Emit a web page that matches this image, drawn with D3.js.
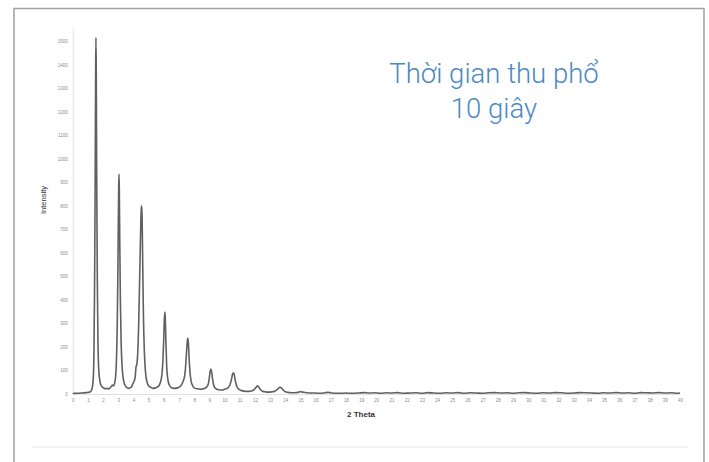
<!DOCTYPE html>
<html>
<head>
<meta charset="utf-8">
<script src="https://cdn.jsdelivr.net/npm/d3@7.9.0/dist/d3.min.js"></script>
<style>
  html, body { margin: 0; padding: 0; background: #fff; }
  svg { display: block; }
</style>
</head>
<body>
<svg id="chart" width="709" height="462"></svg>
<script>
const twoTheta = [
  0, 0.3, 0.6, 0.9, 1.1, 1.2,
  1.28, 1.35, 1.4, 1.44, 1.48, 1.51, 1.53, 1.55, 1.58, 1.62, 1.66, 1.71, 1.78, 1.86, 1.95,
  2.05, 2.15, 2.25, 2.35, 2.45, 2.55, 2.62, 2.7, 2.76,
  2.82, 2.88, 2.93, 2.97, 3.0, 3.03, 3.05, 3.07, 3.1, 3.14, 3.19, 3.25, 3.32, 3.4, 3.5,
  3.6, 3.7, 3.8, 3.88, 3.95, 4.05, 4.12, 4.17, 4.22,
  4.28, 4.34, 4.4, 4.46, 4.51, 4.54, 4.57, 4.61, 4.66, 4.72, 4.8, 4.9, 5.0,
  5.15, 5.3, 5.45, 5.6, 5.72,
  5.8, 5.88, 5.94, 5.99, 6.03, 6.07, 6.1, 6.14, 6.19, 6.26, 6.35, 6.45,
  6.6, 6.75, 6.9, 7.05, 7.15, 7.25,
  7.32, 7.38, 7.44, 7.5, 7.55, 7.58, 7.62, 7.67, 7.73, 7.8, 7.9, 8.0,
  8.2, 8.4, 8.6, 8.8,
  8.92, 8.99, 9.05, 9.1, 9.15, 9.22, 9.3, 9.4,
  9.6, 9.8, 10.0, 10.2, 10.35,
  10.45, 10.52, 10.58, 10.63, 10.7, 10.78, 10.88,
  11.1, 11.3, 11.5, 11.7, 11.9, 12.0,
  12.1, 12.17, 12.25, 12.35, 12.5,
  12.7, 12.9, 13.1, 13.3, 13.45,
  13.55, 13.65, 13.75, 13.85, 14.0,
  14.3, 14.6, 14.85, 15.0, 15.15, 15.4, 15.7, 16.0, 16.3, 16.6, 16.8, 17.0, 17.3, 17.7,
  18.0, 18.4, 18.8, 19.2, 19.5, 19.9, 20.3, 20.7, 21.0, 21.4, 21.8, 22.2, 22.6, 23.0,
  23.4, 23.8, 24.2, 24.6, 25.0, 25.4, 25.8, 26.2, 26.6, 27.0, 27.4, 27.8, 28.2, 28.6,
  29.0, 29.4, 29.8, 30.2, 30.6, 31.0, 31.4, 31.8, 32.2, 32.6, 33.0, 33.4, 33.8, 34.2,
  34.6, 35.0, 35.4, 35.8, 36.2, 36.6, 37.0, 37.4, 37.8, 38.2, 38.6, 39.0, 39.4, 39.8, 40.0
];
const intensity = [
  2, 3, 4, 6, 8, 12,
  25, 60, 180, 450, 900, 1350, 1515, 1380, 950, 500, 240, 110, 60, 38, 30,
  25, 22, 24, 21, 26, 32, 38, 34, 45,
  70, 140, 280, 480, 700, 880, 935, 870, 650, 400, 220, 120, 70, 45, 32,
  26, 24, 28, 30, 42, 55, 75, 115, 125,
  170, 280, 460, 650, 780, 800, 760, 560, 330, 180, 90, 50, 35,
  28, 24, 26, 30, 40,
  55, 85, 140, 220, 310, 348, 320, 220, 120, 65, 40, 30,
  25, 24, 26, 30, 38, 50,
  62, 80, 120, 180, 225, 238, 215, 150, 90, 55, 35, 26,
  22, 20, 22, 28,
  40, 65, 95, 106, 95, 60, 35, 24,
  18, 17, 20, 25, 38,
  60, 82, 90, 85, 60, 38, 24,
  15, 12, 11, 12, 16, 22,
  30, 35, 30, 20, 12,
  9, 8, 9, 12, 18,
  24, 29, 26, 18, 10,
  6, 5, 7, 10, 8, 5, 4, 4, 3, 5, 7, 5, 3, 3,
  4, 3, 4, 6, 4, 5, 3, 5, 4, 6, 3, 4, 5, 3,
  6, 4, 3, 5, 4, 6, 3, 5, 4, 3, 5, 6, 4, 5,
  3, 5, 6, 4, 3, 5, 4, 6, 5, 3, 4, 6, 5, 4,
  3, 5, 4, 6, 4, 5, 3, 6, 5, 4, 6, 4, 5, 3, 4
];
const xTicks = [0,1,2,3,4,5,6,7,8,9,10,11,12,13,14,15,16,17,18,19,20,
  21,22,23,24,25,26,27,28,29,30,31,32,33,34,35,36,37,38,39,40];
const yTicks = [0,100,200,300,400,500,600,700,800,900,1000,1100,1200,1300,1400,1500];
const titleLines = ["Thời gian thu phổ", "10 giây"];

const svg = d3.select('#chart');

// outer frame
svg.append('path')
  .attr('d', 'M14,462 V8.5 H704 V462')
  .attr('fill', 'none')
  .attr('stroke', '#a0a0a0')
  .attr('stroke-width', 1.5);

svg.append('line')
  .attr('x1', 32).attr('x2', 688)
  .attr('y1', 447).attr('y2', 447)
  .attr('stroke', '#e6e6e6');

const x = d3.scaleLinear().domain([0, 40]).range([72.7, 680]);
const y = d3.scaleLinear().domain([0, 1560]).range([394, 27]);

// axes
const yAxis = svg.append('g')
  .attr('transform', `translate(${x(0)},0)`)
  .call(d3.axisLeft(y).tickValues(yTicks).tickFormat(d3.format('d')).tickSize(0).tickPadding(5));
yAxis.select('.domain').attr('stroke', '#e2e2e2');
yAxis.selectAll('text')
  .attr('fill', '#8a8a8a')
  .style('font', '4.5px "Liberation Sans", sans-serif');

const xAxis = svg.append('g')
  .attr('transform', `translate(0,${y(0)})`)
  .call(d3.axisBottom(x).tickValues(xTicks).tickSize(0).tickPadding(5));
xAxis.select('.domain').attr('stroke', '#e2e2e2');
xAxis.selectAll('text')
  .attr('fill', '#8a8a8a')
  .style('font', '4.5px "Liberation Sans", sans-serif');

// axis titles
svg.append('text')
  .attr('transform', 'translate(46,200) rotate(-90)')
  .attr('text-anchor', 'middle')
  .attr('fill', '#333')
  .style('font', '7.5px "Liberation Sans", sans-serif')
  .text('Intensity');

svg.append('text')
  .attr('x', 361).attr('y', 417)
  .attr('text-anchor', 'middle')
  .attr('fill', '#333')
  .style('font', 'bold 8px "Liberation Sans", sans-serif')
  .text('2 Theta');

// pattern
const points = twoTheta.map((t, i) => [t, intensity[i]]);
const line = d3.line()
  .x(d => x(d[0]))
  .y(d => y(d[1]))
  .curve(d3.curveMonotoneX);

svg.append('path')
  .datum(points)
  .attr('d', line)
  .attr('fill', 'none')
  .attr('stroke', '#606060')
  .attr('stroke-width', 1.6)
  .attr('stroke-linejoin', 'round');

// annotation
svg.append('g').selectAll('text')
  .data(titleLines)
  .join('text')
  .attr('x', 494)
  .attr('y', (d, i) => 83 + i * 35)
  .attr('text-anchor', 'middle')
  .attr('fill', '#4b89c3')
  .style('font', '300 27.5px Roboto, sans-serif')
  .text(d => d);
</script>
</body>
</html>
